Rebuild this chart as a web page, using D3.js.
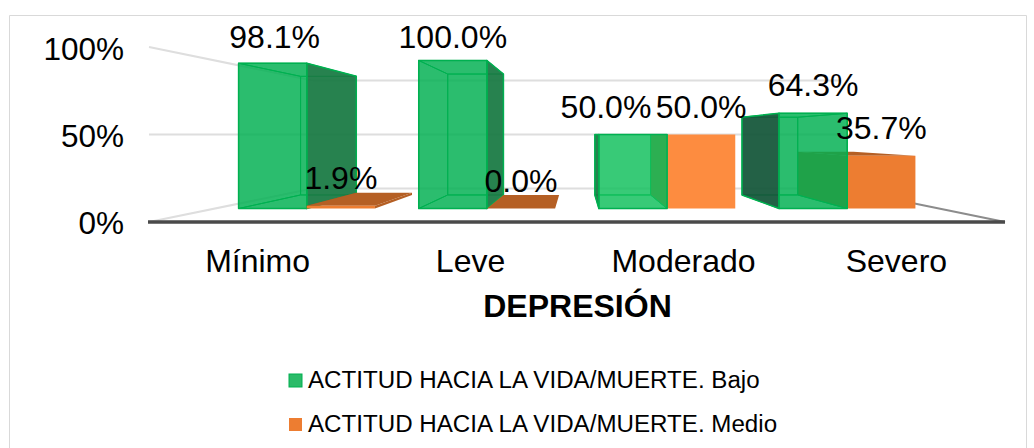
<!DOCTYPE html>
<html>
<head>
<meta charset="utf-8">
<script src="https://cdn.jsdelivr.net/npm/d3@7"></script>
<style>
    html, body { margin: 0; padding: 0; background: #fff; overflow: hidden; }
    text { font-family: "Liberation Sans", Arial, sans-serif; fill: #000; }
</style>
</head>
<body>
<div id="chart"></div>
<script>
const w = 1034;
const h = 448;

const categories = ["Mínimo", "Leve", "Moderado", "Severo"];
const seriesNames = ["ACTITUD HACIA LA VIDA/MUERTE. Bajo", "ACTITUD HACIA LA VIDA/MUERTE. Medio"];
const bajo = [98.1, 100, 50, 64.3];
const medio = [1.9, 0, 50, 35.7];
const ticks = [0, 50, 100];

const svg = d3.select("div#chart").append("svg")
    .attr("width", w)
    .attr("height", h)
    .style("display", "block");

// chart border, no bottom edge in the picture
svg.append("path")
    .attr("d", "M9.5," + h + "V15.5H1026.5V" + h)
    .attr("fill", "none")
    .attr("stroke", "#d9d9d9")
    .attr("stroke-width", 1);

// front plane scales
const x = d3.scaleBand().domain(categories).range([151, 1003]).paddingInner(0.243).paddingOuter(0.122);
const xSeries = d3.scaleBand().domain([0, 1]).range([0, x.bandwidth()]);
const y = d3.scaleLinear().domain([0, 100]).range([222, 47]);

// perspective: everything shrinks towards the vanishing point
const vanish = [577, y(50)];
const wallDepth = 0.617, barFront = 0.846, barBack = 0.691;
function project(px, py, s) {
    return [vanish[0] + s * (px - vanish[0]), vanish[1] + s * (py - vanish[1])];
}
function poly(points) {
    return "M" + points.map(function(p) { return p[0] + "," + p[1]; }).join("L") + "Z";
}

// walls and floor
ticks.forEach(function(t) {
    const back = project(149, y(t), wallDepth);
    const backRight = project(1005, y(t), wallDepth);
    svg.append("path")
        .attr("d", "M149," + y(t) + "L" + back + "L" + backRight)
        .attr("fill", "none")
        .attr("stroke", "#dedede")
        .attr("stroke-width", 2);
});
svg.append("line")
    .attr("x1", project(1005, y(0), wallDepth)[0])
    .attr("y1", project(1005, y(0), wallDepth)[1])
    .attr("x2", 1005)
    .attr("y2", y(0))
    .attr("stroke", "#8c8c8c")
    .attr("stroke-width", 2);
svg.append("line")
    .attr("x1", 148)
    .attr("y1", y(0))
    .attr("x2", 1005)
    .attr("y2", y(0))
    .attr("stroke", "#4a4a4a")
    .attr("stroke-width", 3.5);

const green = { front: "#00b050", opacity: 0.83, side: "#1a7a44", sideOpacity: 0.94, top: "#00b050", edge: "#00b050" };
const orange = { front: "#ed7d31", opacity: 1, side: "#b55f24", hidden: "#7a5f26", sideOpacity: 1, top: "#b55f24", edge: "none" };

// the moderado bars are lit a bit brighter, the severo side is in shadow
function frontColor(style, cat) {
    if (cat !== "Moderado") return style.front;
    return style === green ? "#10bf5c" : "#fd8c40";
}
function sideColor(style, cat) {
    return style === green && cat === "Severo" ? "#15573a" : style.side;
}

function drawBar(cat, i, serie, value, style) {
    const x0 = x(cat) + xSeries(serie);
    const x1 = x0 + xSeries.bandwidth();
    const yT = y(value), yB = y(0);

    const fr = [project(x0, yT, barFront), project(x1, yT, barFront), project(x1, yB, barFront), project(x0, yB, barFront)];
    const bk = [project(x0, yT, barBack), project(x1, yT, barBack), project(x1, yB, barBack), project(x0, yB, barBack)];

    const g = svg.append("g");

    function face(points, fill, opacity, stroke, edgeW) {
        g.append("path")
            .attr("d", poly(points))
            .attr("fill", fill)
            .attr("fill-opacity", opacity)
            .attr("stroke", stroke || "none")
            .attr("stroke-width", edgeW || 1.5)
            .attr("stroke-linejoin", "round");
    }

    const leftFace = [fr[0], bk[0], bk[3], fr[3]];
    const rightFace = [fr[1], bk[1], bk[2], fr[2]];
    const topFace = [fr[0], fr[1], bk[1], bk[0]];
    const bottomFace = [fr[3], fr[2], bk[2], bk[3]];
    const leftVisible = x0 > vanish[0];
    const rightVisible = x1 < vanish[0];
    const topVisible = yT > vanish[1];

    // hidden faces first, they show through the translucent green
    if (style === green) {
        face(bk, "none", 0, style.edge, 1);
        face(bottomFace, "none", 0, style.edge, 1);
        if (!leftVisible) face(leftFace, "none", 0, style.edge, 1);
        if (!rightVisible) face(rightFace, "none", 0, style.edge, 1);
        if (!topVisible) face(topFace, "none", 0, style.edge, 1);
    } else {
        if (!leftVisible) face(leftFace, style.hidden, 1);
    }
    if (topVisible) face(topFace, style.top, 1, style.edge);
    if (leftVisible) face(leftFace, sideColor(style, cat), style.sideOpacity, style.edge);
    if (rightVisible) face(rightFace, sideColor(style, cat), style.sideOpacity, style.edge);
    face(fr, frontColor(style, cat), style.opacity, style.edge);
}

// painter's order: the bar furthest from the vanishing point goes first
categories.forEach(function(cat, i) {
    if (x(cat) + x.bandwidth() / 2 < vanish[0]) {
        drawBar(cat, i, 0, bajo[i], green);
        drawBar(cat, i, 1, medio[i], orange);
    } else {
        drawBar(cat, i, 1, medio[i], orange);
        drawBar(cat, i, 0, bajo[i], green);
    }
});

// value axis labels
svg.selectAll("text.tick")
    .data(ticks)
    .enter()
    .append("text")
    .attr("class", "tick")
    .attr("x", 124)
    .attr("y", function(d) { return d === 50 ? 147 : d === 0 ? 234 : 60; })
    .attr("text-anchor", "end")
    .style("font-size", "31.5px")
    .text(function(d) { return d + "%"; });

// category labels sit under the front plane bands
svg.selectAll("text.cat")
    .data(categories)
    .enter()
    .append("text")
    .attr("class", "cat")
    .attr("x", function(d) { return x(d) + x.bandwidth() / 2; })
    .attr("y", 272)
    .attr("text-anchor", "middle")
    .style("font-size", "32px")
    .text(function(d) { return d; });

// data labels, with a nudge for the ones that would collide
categories.forEach(function(cat, i) {
    [bajo, medio].forEach(function(values, serie) {
        const cx = x(cat) + xSeries(serie) + xSeries.bandwidth() / 2;
        const p = project(cx, y(values[i]), barFront);
        const dx = cat === "Moderado" && serie === 0 ? -27 : (cat === "Mínimo" && serie === 0) ? 2 : 0;
        const dy = values[i] === 100 ? 12 : (cat === "Mínimo" && serie === 0) ? 15 : 17;
        svg.append("text")
            .attr("class", "value")
            .attr("x", p[0] + dx)
            .attr("y", p[1] - dy)
            .attr("text-anchor", "middle")
            .style("font-size", "32px")
            .text(d3.format(".1f")(values[i]) + "%");
    });
});

// axis title
svg.append("text")
    .attr("x", 577.5)
    .attr("y", 317)
    .attr("text-anchor", "middle")
    .style("font-size", "32px")
    .style("font-weight", "bold")
    .text("DEPRESIÓN");

// legend
const legend = svg.selectAll("g.legend")
    .data(seriesNames)
    .enter()
    .append("g")
    .attr("class", "legend")
    .attr("transform", function(d, i) { return "translate(289," + (374 + i * 44) + ")"; });
legend.append("rect")
    .attr("width", 13)
    .attr("height", 13)
    .attr("fill", function(d, i) { return i === 0 ? "#2bbb69" : "#ed7d31"; })
    .attr("stroke", function(d, i) { return i === 0 ? "#00b050" : "none"; });
legend.append("text")
    .attr("x", 19)
    .attr("y", 14)
    .style("font-size", "24.15px")
    .text(function(d) { return d; });
</script>
</body>
</html>
